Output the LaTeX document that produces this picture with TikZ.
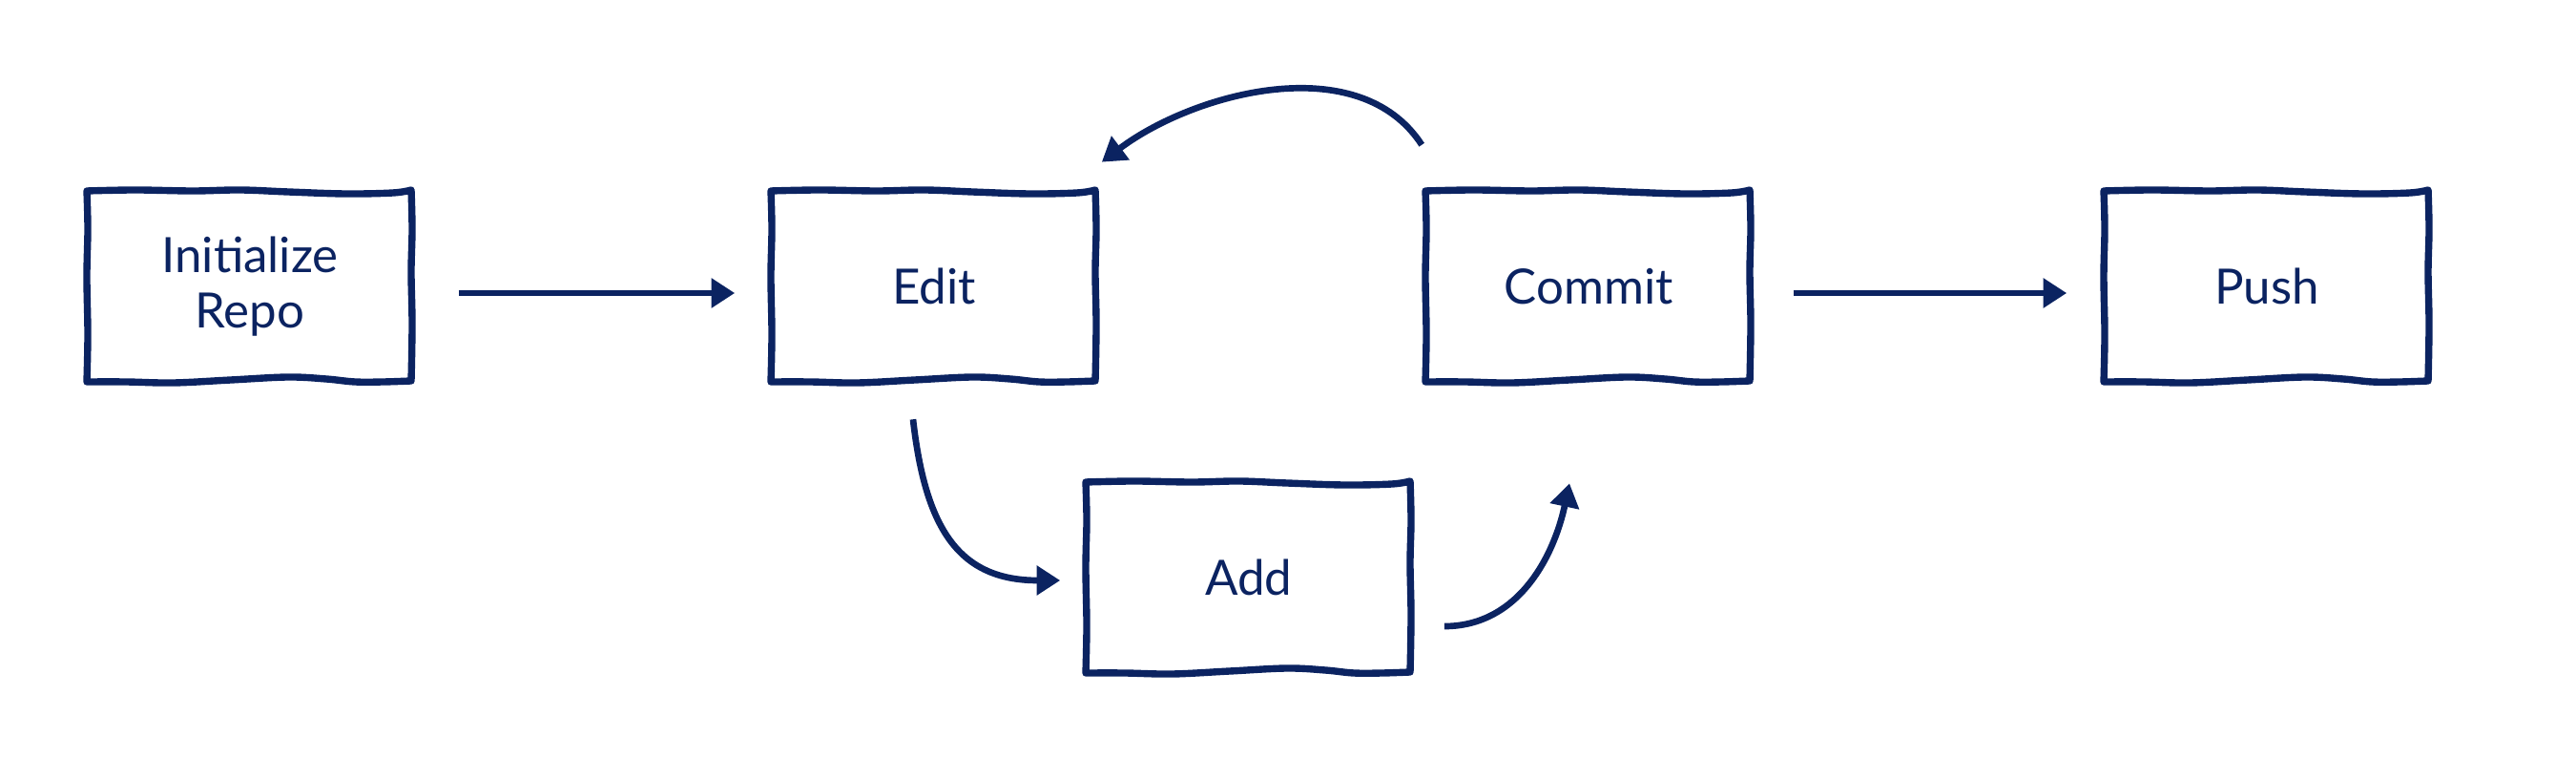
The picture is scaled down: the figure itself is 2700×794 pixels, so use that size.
\documentclass[tikz,border=0pt]{standalone}
\usepackage{fontspec}
\setmainfont{Lato}
\usetikzlibrary{arrows.meta}
\definecolor{navy}{HTML}{0B2361}
\tikzset{
  boxline/.style={draw=navy, line width=2.1pt, line join=round, line cap=round},
  arr/.style={draw=navy, line width=1.9pt, -{Triangle[length=7pt,width=8.5pt]}},
  lbl/.style={draw=none, minimum width=3.4cm, minimum height=1.99cm, align=center,
    text=navy, font=\fontsize{14.5}{16.5}\selectfont},
  sketchbox/.pic={
    \draw[boxline]
      plot[smooth,tension=0.6] coordinates {(-171,100) (-120,101) (-60,100) (-10,101) (40,99) (100,97) (150,98) (169,101)}
      -- plot[smooth,tension=0.6] coordinates {(169,101) (170,60) (169,15) (170,-40) (169,-99)}
      -- plot[smooth,tension=0.6] coordinates {(169,-99) (140,-100) (110,-100) (80,-97) (40,-95) (-20,-98) (-80,-101) (-130,-100) (-171,-100)}
      -- plot[smooth,tension=0.6] coordinates {(-171,-100) (-170,-50) (-171,10) (-170,60) (-171,100)};
  }
}
\begin{document}
\begin{tikzpicture}[x=0.01cm,y=0.01cm]
\useasboundingbox (0,0) rectangle (2700,794);
% nodes
\node[lbl] (init) at (262,494) {Initialize\\Repo};
\node[lbl] (edit) at (979,494) {Edit};
\node[lbl] (commit) at (1665,494) {Commit};
\node[lbl] (push) at (2376,494) {Push};
\node[lbl] (add) at (1309,189) {Add};
% sketchy borders
\pic at (init.center) {sketchbox};
\pic at (edit.center) {sketchbox};
\pic at (commit.center) {sketchbox};
\pic at (push.center) {sketchbox};
\pic at (add.center) {sketchbox};
% connectors
\draw[arr, shorten <=0.48cm, shorten >=0.38cm] ([yshift=-0.07cm]init.east) -- ([yshift=-0.07cm]edit.west);
\draw[arr, shorten <=0.44cm, shorten >=0.39cm] ([yshift=-0.07cm]commit.east) -- ([yshift=-0.07cm]push.west);
\draw[arr] ([shift={(-0.04cm,0.48cm)}]commit.north west) to[out=123,in=37,looseness=0.92] ([shift={(0.05cm,0.3cm)}]edit.north east);
\draw[arr] ([shift={(-0.22cm,-0.39cm)}]edit.south) .. controls +(13,-115) and +(-106,0) .. ([shift={(-0.27cm,-0.03cm)}]add.west);
\draw[arr] ([shift={(0.34cm,-0.51cm)}]add.east) to[out=0,in=-102] ([shift={(-0.2cm,-1.06cm)}]commit.south);
\end{tikzpicture}
\end{document}
